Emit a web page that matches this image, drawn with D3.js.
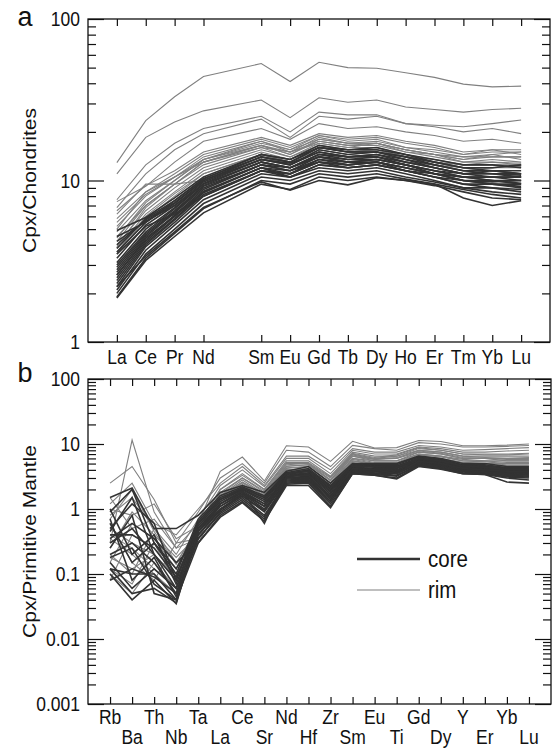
<!DOCTYPE html>
<html>
<head>
<meta charset="utf-8">
<script src="https://cdn.jsdelivr.net/npm/d3@7"></script>
<style>
  body { margin: 0; background: #fff; }
  svg text { font-family: "Liberation Sans", Arial, sans-serif; fill: #111; }
</style>
</head>
<body>
<script>
// REE, chondrite normalised (Pm has no data, only a gap)
const reeAxis = ["La","Ce","Pr","Nd","Pm","Sm","Eu","Gd","Tb","Dy","Ho","Er","Tm","Yb","Lu"];
const reeElems = ["La","Ce","Pr","Nd","Sm","Eu","Gd","Tb","Dy","Ho","Er","Tm","Yb","Lu"];

const reeRim = [
  [12.9,23.5,33,44,53,41,54,50,49.5,46.5,43.5,39.5,38,38.4],
  [11,18.5,23,27,31.5,24.5,32.5,30.5,31.5,28.5,27.5,26.5,27.5,28],
  [7.6,12.5,17,21,25,20,26.5,25.5,25.5,22.5,22,21.5,22.5,23.7],
  [6.8,11,15.5,19.5,24,18.5,25,24,25,22.5,21.5,20,21,19.5],
  [7.4,9.2,13,17.5,21,18,22.5,21,21.5,20,19,17.5,18,17],
  [6.5,9.3,11.5,15,18.5,16.5,19.5,18.5,19,17.5,16.5,15,15.5,15.5],
  [5.8,8.5,11,14.5,18,16,19,18,18.5,17,16,14.5,15.5,14.5],
  [5.2,8,10.5,14,17.5,15,18.5,17,17.5,16,15,14,14,14],
  [4.8,7.5,10,13.5,17,15.5,18,17,17,15.5,14.5,13.5,14.5,13.5],
  [4.5,7,9.5,13,16.5,14.5,17.5,16.5,16.5,15,14,13,13.5,13],
  [4.2,7,9.5,12.5,16,14,17,16,16,14.5,13.5,12.5,13,12.5],
  [4,6.5,9,12,15.5,14,16.5,15.5,16,14,13,12.5,12.5,12.5],
  [3.8,6.2,8.5,11.5,15,13.5,16,15,15.5,14,13,12,12,12.2],
  [3.6,6,8.3,11,14.5,13,15.5,14.5,15,13.5,12.5,11.5,12,12],
  [6.2,9.5,9.5,10,14,12.5,15,14,14.5,13,12.5,12,12,12.5],
  [5,8.5,10.5,13,16,15,17,16,17,15.5,14.5,14,14.5,15],
  [4.4,7.3,10,13.5,17.5,15.5,19,17.5,18,16,15.5,14.5,15,15],
  [3.9,6.8,9.5,13,16.5,14.5,18,17,17,15.5,14.5,13.5,14,14],
  [5.5,8.2,10.5,13.5,16.5,15,17.5,16.5,17,15,14.5,13,13,12.8],
  [3.5,5.8,8,11,14.5,13,16,15,15.5,14,13.5,12.5,12.5,12.3]
];

const reeCore = [
  [4.9,5.9,7.8,10.5,14.5,13.5,16.5,15.5,15.5,14.5,13,12,12,12.5],
  [4.5,5.5,7.5,10.3,14,13,16,15,15,14,13,12,11.5,11.5],
  [4,5.7,7.3,10,14,13,16,15,15,14,12.5,11.5,11.5,11],
  [3.6,5.5,7.2,10,13.5,12.5,15.5,14.5,15,13.5,12.5,11.5,11,11],
  [3.3,5.3,7,9.8,13.5,12.5,15,14,14.5,13.5,12,11,11,10.5],
  [3.1,5,6.8,9.6,13.5,12.8,15,14,14.5,13,12,11,10.5,10.5],
  [3,4.8,6.7,9.5,13,12,14.5,14,14,13,12,11,11,10.8],
  [2.9,4.7,6.5,9.3,13,12,14.5,13.5,14,12.5,11.5,10.5,10.5,10],
  [2.8,4.6,6.4,9.2,12.5,12,14,13.5,13.5,12.5,11.5,10.5,10,10],
  [2.7,4.5,6.3,9,12.5,11.5,14,13,13.5,12.5,11,10.5,10,9.6],
  [2.6,4.3,6.1,8.8,12.5,11.5,13.5,13,13,12,11,10,10,9.5],
  [2.5,4.2,6,8.6,12,11,13.5,12.5,13,12,11,10,9.5,9.5],
  [2.4,4.1,5.8,8.4,12,11.5,13,12.5,13,11.5,10.5,10,9.5,9.2],
  [2.3,4,5.7,8.2,11.5,11,13,12,12.5,11.5,10.5,9.5,9.5,9],
  [2.2,3.9,5.5,8,11.5,10.5,12.5,12,12.5,11.5,10.5,9.5,9,8.8],
  [2.1,3.7,5.3,7.6,11,10.5,12,11.5,12,11,10,9,9,8.5],
  [2,3.5,5,7.2,10.5,10,11.5,11,11.5,10.5,9.8,9,8.5,8.2],
  [1.9,3.3,4.7,6.7,10,9.5,11,10.5,11,10.2,9.5,8.8,8.2,7.8],
  [1.87,3.2,4.5,6.3,9.5,8.8,10.5,10,10.5,10,9.3,8.5,7.8,7.6],
  [2.2,3.4,4.8,6.8,9.8,8.7,10,9.4,10.4,10,9.5,7.8,7,7.5],
  [3.5,5.2,6.2,8,11.5,11,13,12.5,13,12,11,10.5,10.5,10.5],
  [2.6,4.4,6,8.5,12,10.5,12.5,12,12.5,11.5,11,10,9.8,10],
  [4.2,5.6,7,9.5,13,12,14,13,13.5,12.5,11.5,11,11.5,11],
  [3.8,5.8,7.5,10.2,14.5,13.5,16,15.5,16,14.5,13.5,12.5,12.5,12]
];

// trace elements, primitive mantle normalised
const traceElems = ["Rb","Ba","Th","Nb","Ta","La","Ce","Sr","Nd","Hf","Zr","Sm","Eu","Ti","Gd","Dy","Y","Er","Yb","Lu"];

const traceRim = [
  [0.3,11.5,0.9,0.25,0.6,3.8,6.3,2.7,9.4,9,5.4,11,8.7,8.8,11.3,10.9,9.4,9.4,9.6,10],
  [2.5,4.5,1.4,0.3,0.9,3,5,2.5,8,7.5,4.5,9.5,8.5,8,10.5,10,9,9,9.2,9.5],
  [1.2,2.5,0.6,0.4,1,2.5,4.5,2.3,6.5,6.5,4,8.5,7.5,7.5,9.5,9,8,8.2,8.5,8.8],
  [0.8,1.5,0.5,0.2,0.7,2.3,4,2.2,6,6,3.5,8,7,7,9,8.5,7.5,7.5,7.8,8],
  [0.15,0.6,0.35,0.12,0.6,2,3.5,2,5.5,5.5,3.2,7.5,6.5,6.5,8.5,8,7,7,7,7.2],
  [0.5,0.3,0.2,0.08,0.5,1.8,3,1.9,5,5,3,7,6,6.5,8,7.5,6.5,6.5,6.5,6.5],
  [0.1,0.05,0.15,0.06,0.45,1.7,3,1.8,4.8,5,2.8,7,6,6,8,7.5,6.5,6.2,6,6],
  [1,0.8,1.2,0.35,0.55,1.6,2.8,1.7,4.5,4.8,2.7,6.5,5.8,6,7.5,7,6,6,5.8,5.8],
  [0.2,0.1,0.5,0.15,0.5,1.6,2.6,1.6,4.3,4.5,2.5,6.5,5.5,5.5,7.5,7,6,6,5.5,5.5],
  [0.35,0.2,0.1,0.05,0.4,1.5,2.5,1.6,4.2,4.5,2.5,6,5.5,5.5,7,6.5,5.8,5.5,5.5,5.5],
  [0.08,0.4,0.25,0.1,0.45,1.5,2.4,1.5,4,4.2,2.3,6,5.2,5.2,7,6.5,5.5,5.5,5.2,5.2],
  [0.6,0.15,0.08,0.3,0.35,1.4,2.3,1.5,4,4,2.2,5.8,5,5,6.8,6.3,5.5,5.3,5,5],
  [0.12,0.07,0.3,0.07,0.5,1.4,2.2,1.4,3.8,4,2.1,5.5,5,5,6.5,6,5.2,5,5,5],
  [0.25,0.9,0.4,0.18,0.4,1.3,2.1,1.4,3.8,3.8,2,5.5,4.8,4.8,6.5,6,5.2,5,4.8,4.8],
  [1.5,0.5,0.7,0.25,0.35,1.3,2,1.3,3.6,3.6,2,5.2,4.8,4.5,6.2,5.8,5,4.8,4.6,4.6],
  [0.4,0.25,0.12,0.06,0.3,1.2,2,1.3,3.5,3.5,1.9,5,4.5,4.5,6,5.5,4.8,4.6,4.5,4.5],
  [0.18,0.12,0.2,0.09,0.45,1.5,2.6,1.7,4.6,4.8,2.8,6.8,5.8,6.2,7.8,7.2,6.2,6,6,6.2],
  [0.7,2,0.45,0.14,0.55,2,3.3,2,5.2,5.2,3.1,7.2,6.2,6.8,8.8,8,7,6.8,6.8,7]
];

const traceCore = [
  [1.5,2.1,0.5,0.5,0.8,1.8,2.3,1.8,3.8,4.5,2.5,5,5,5,6.5,6,5,5,4.5,4.5],
  [0.9,2,0.3,0.1,0.7,1.6,2.2,1.6,3.6,4.2,2.3,4.8,4.8,4.8,6.3,5.8,4.8,4.8,4.3,4.3],
  [0.5,1.2,0.6,0.08,0.65,1.5,2.1,1.5,3.5,4,2.2,4.7,4.6,4.6,6,5.6,4.7,4.6,4.2,4.2],
  [0.3,0.5,0.2,0.06,0.6,1.4,2,1.4,3.4,3.8,2,4.6,4.5,4.5,5.8,5.5,4.6,4.5,4,4],
  [0.2,0.3,0.15,0.05,0.55,1.3,2,1.3,3.3,3.6,1.9,4.5,4.4,4.3,5.7,5.3,4.5,4.3,3.9,3.9],
  [0.12,0.1,0.1,0.04,0.5,1.2,1.9,1.2,3.2,3.5,1.8,4.4,4.2,4.2,5.5,5.2,4.4,4.2,3.8,3.8],
  [0.1,0.04,0.08,0.035,0.45,1.1,1.8,1.1,3.1,3.4,1.7,4.3,4.1,4,5.4,5,4.3,4.1,3.7,3.7],
  [0.6,0.15,0.3,0.12,0.5,1.2,1.8,1.2,3,3.2,1.6,4.2,4,3.9,5.3,4.9,4.2,4,3.6,3.6],
  [0.25,0.8,0.05,0.04,0.4,1,1.7,1,3,3.1,1.5,4.1,3.9,3.8,5.2,4.8,4.1,3.9,3.5,3.5],
  [1,0.2,0.4,0.07,0.5,1.1,1.7,1.1,2.9,3,1.5,4,3.8,3.7,5.1,4.7,4,3.8,3.5,3.4],
  [0.15,0.06,0.12,0.06,0.4,0.95,1.6,0.95,2.8,2.9,1.4,3.9,3.7,3.6,5,4.6,3.9,3.7,3.4,3.3],
  [0.4,0.4,0.25,0.09,0.45,1,1.6,0.9,2.7,2.8,1.3,3.8,3.6,3.5,4.9,4.5,3.8,3.6,3.3,3.2],
  [0.08,0.12,0.09,0.05,0.35,0.9,1.5,0.8,2.6,2.7,1.3,3.7,3.5,3.3,4.8,4.4,3.7,3.5,3.2,3.1],
  [0.7,0.08,0.18,0.045,0.35,0.85,1.4,0.75,2.5,2.6,1.2,3.6,3.4,3.2,4.7,4.3,3.6,3.5,3.1,3],
  [0.18,0.25,0.07,0.04,0.3,0.8,1.3,0.7,2.4,2.5,1.1,3.5,3.3,3,4.6,4.2,3.5,3.4,3,2.8],
  [0.35,0.6,0.35,0.15,0.3,0.75,1.25,0.65,2.3,2.3,1.05,3.5,3.3,2.9,4.5,4.1,3.5,3.4,2.6,2.5],
  [0.12,0.05,0.06,0.036,0.45,1.2,1.9,0.6,3.2,3.3,1.5,4.2,4,3.5,5.4,5,4.2,4,3.8,3.8],
  [0.45,1.5,0.2,0.08,0.6,1.4,2.1,1.5,3.5,3.8,2.1,4.6,4.5,4.4,6,5.5,4.6,4.4,4.1,4]
];

const coreColor = "#333";
const rimColor = "#808080";

const width = 553;
const height = 749;
const stretch = 1.17; // the original figure's text is a bit taller than wide

const svg = d3.select("body").append("svg")
  .attr("width", width)
  .attr("height", height);

function label(g, x, y, str, size, anchor) {
  return g.append("text")
    .attr("transform", `translate(${x},${y}) scale(1,${stretch})`)
    .attr("text-anchor", anchor || "middle")
    .attr("dy", "0.35em")
    .style("font-size", size + "px")
    .text(str);
}

function minorTicks(lo, hi) {
  const out = [];
  for (let e = lo; e < hi; e++) {
    for (let m = 2; m <= 9; m++) out.push(+(m * Math.pow(10, e)).toPrecision(3));
  }
  return out;
}

function drawPanel(opt) {
  const { x, y, left, right, top, bottom } = opt;
  const g = svg.append("g");

  const line = d3.line()
    .x((d, i) => x(opt.elems[i]))
    .y((d) => y(d));

  g.selectAll("path.rim")
    .data(opt.rim)
    .enter()
    .append("path")
    .attr("class", "rim")
    .attr("d", line)
    .attr("fill", "none")
    .attr("stroke", rimColor)
    .attr("stroke-width", 1.1);

  g.selectAll("path.core")
    .data(opt.core)
    .enter()
    .append("path")
    .attr("class", "core")
    .attr("d", line)
    .attr("fill", "none")
    .attr("stroke", coreColor)
    .attr("stroke-width", 1.6);

  // inward ticks on all four sides
  const majors = opt.majors;
  const minors = minorTicks(opt.decLo, opt.decHi);

  [
    [d3.axisRight, left],
    [d3.axisLeft, right]
  ].forEach(([axisFn, pos]) => {
    g.append("g").attr("transform", `translate(${pos},0)`)
      .call(axisFn(y).tickValues(majors).tickSize(16).tickFormat(""))
      .call((s) => s.select(".domain").remove());
    g.append("g").attr("transform", `translate(${pos},0)`)
      .call(axisFn(y).tickValues(minors).tickSize(8).tickFormat(""))
      .call((s) => s.select(".domain").remove());
  });

  g.append("g").attr("transform", `translate(0,${top})`)
    .call(d3.axisBottom(x).tickValues(opt.elems).tickSize(7).tickFormat(""))
    .call((s) => s.select(".domain").remove());
  g.append("g").attr("transform", `translate(0,${bottom})`)
    .call(d3.axisTop(x).tickValues(opt.elems).tickSize(7).tickFormat(""))
    .call((s) => s.select(".domain").remove());

  g.selectAll(".tick line").attr("stroke", "#111").attr("stroke-width", 1.2);

  // y tick labels
  majors.forEach((v) => label(g, left - 8, y(v), opt.fmt(v), 17.5, "end"));

  // frame
  g.append("rect")
    .attr("x", left).attr("y", top)
    .attr("width", right - left).attr("height", bottom - top)
    .attr("fill", "none").attr("stroke", "#111").attr("stroke-width", 1.3);

  // y title
  g.append("text")
    .attr("transform", `translate(${opt.titleX},${(top + bottom) / 2}) scale(1,${stretch}) rotate(-90)`)
    .attr("text-anchor", "middle")
    .attr("dy", "0.35em")
    .style("font-size", "18px")
    .text(opt.title);

  // panel letter
  g.append("text")
    .attr("x", 25).attr("y", opt.letterBase)
    .attr("text-anchor", "middle")
    .style("font-size", "27px")
    .text(opt.letter);

  return g;
}

// panel a
const xA = d3.scalePoint().domain(reeAxis).range([88, 550]).padding(1);
const yA = d3.scaleLog().domain([1, 100]).range([342, 19]);
const gA = drawPanel({
  x: xA, y: yA, left: 88, right: 550, top: 19, bottom: 342,
  elems: reeElems, rim: reeRim, core: reeCore,
  majors: [1, 10, 100], decLo: 0, decHi: 2,
  fmt: d3.format("d"),
  title: "Cpx/Chondrites", titleX: 30, letter: "a", letterBase: 26
});
reeElems.forEach((d) => label(gA, xA(d), 357, d, 17.5));

// panel b
const xB = d3.scalePoint().domain(traceElems).range([88, 551]).padding(1);
const yB = d3.scaleLog().domain([0.001, 100]).range([704, 379]);
const gB = drawPanel({
  x: xB, y: yB, left: 88, right: 551, top: 379, bottom: 704,
  elems: traceElems, rim: traceRim, core: traceCore,
  majors: [0.001, 0.01, 0.1, 1, 10, 100], decLo: -3, decHi: 2,
  fmt: (d) => (d >= 1 ? d3.format("d")(d) : String(d)),
  title: "Cpx/Primitive Mantle", titleX: 30, letter: "b", letterBase: 382
});
traceElems.forEach((d, i) => label(gB, xB(d), i % 2 === 0 ? 717 : 737, d, 17.5));

// legend
const legend = [
  { name: "core", color: coreColor, w: 2.4, y: 559 },
  { name: "rim", color: rimColor, w: 1.2, y: 590 }
];
const lg = svg.append("g");
lg.selectAll("line")
  .data(legend)
  .enter()
  .append("line")
  .attr("x1", 357).attr("x2", 420)
  .attr("y1", (d) => d.y).attr("y2", (d) => d.y)
  .attr("stroke", (d) => d.color)
  .attr("stroke-width", (d) => d.w);
legend.forEach((d) => label(lg, 428, d.y, d.name, 20.5, "start"));
</script>
</body>
</html>
